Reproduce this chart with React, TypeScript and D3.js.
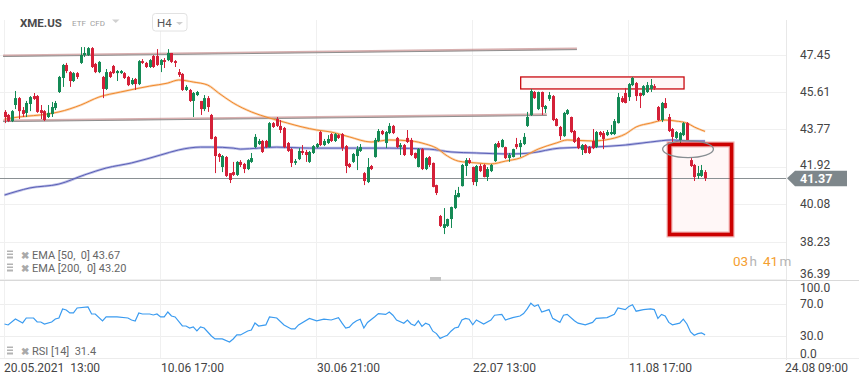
import React from 'react';
import * as d3 from 'd3';

const W = 859;
const H = 385;

// [open, high, low, close] per H4 bar
const ohlc: [number, number, number, number][] = [
  [44.63,44.72,44.08,44.38],[44.48,44.53,44.13,44.18],[44.18,44.72,44.13,44.67],[44.97,45.66,44.77,45.31],
  [45.31,45.36,44.28,44.67],[44.72,44.87,44.38,44.53],[44.58,45.17,44.38,45.07],[45.02,45.41,44.67,45.36],
  [45.41,45.56,45.22,45.27],[45.41,45.46,44.58,44.63],[44.72,44.97,44.28,44.58],[44.67,44.72,44.18,44.23],
  [44.38,44.97,44.33,44.58],[44.53,45.12,44.38,44.87],[44.82,45.17,44.72,45.07],[45.61,46.40,45.56,46.35],
  [46.30,46.99,45.86,46.94],[46.94,47.04,46.54,46.64],[46.59,46.64,45.86,46.15],[46.15,46.59,46.10,46.54],
  [46.54,46.59,46.25,46.35],[47.04,47.82,46.99,47.43],[47.43,47.82,47.33,47.53],[47.43,47.82,47.38,47.77],
  [47.77,47.82,46.79,46.84],[46.99,47.04,46.54,46.59],[46.59,47.13,46.54,47.09],[46.35,46.40,45.31,45.76],
  [45.76,46.74,45.71,46.59],[46.59,46.64,46.30,46.35],[46.89,46.94,46.50,46.54],[46.54,46.69,46.15,46.64],
  [46.54,46.69,46.50,46.64],[46.54,46.59,46.25,46.30],[46.35,46.40,45.90,45.95],[46.00,46.30,45.95,46.20],
  [46.25,46.30,45.71,46.00],[46.00,47.18,45.95,47.13],[47.13,47.23,46.99,47.04],[47.04,47.09,46.79,46.84],
  [46.84,47.23,46.79,47.18],[47.38,47.43,46.79,46.84],[47.38,47.72,46.89,46.94],[46.94,47.23,46.59,47.18],
  [47.18,47.28,46.79,47.09],[47.18,47.72,47.13,47.53],[47.53,47.53,47.04,47.09],[47.13,47.18,46.84,47.04],
  [46.59,46.74,46.35,46.45],[46.50,46.54,45.66,45.71],[45.71,45.95,45.66,45.86],[45.71,45.76,45.12,45.17],
  [45.17,45.61,44.38,45.56],[45.46,45.66,45.41,45.61],[45.17,45.17,44.48,44.77],[44.77,45.46,44.67,45.31],
  [45.31,45.41,44.63,44.87],[44.48,44.53,43.28,43.30],[43.40,43.44,41.62,42.46],[42.56,42.61,42.17,42.41],
  [41.92,42.51,41.67,42.46],[42.41,42.46,41.43,41.48],[41.62,41.62,41.13,41.28],[41.67,42.17,41.48,41.53],
  [41.53,42.21,41.48,42.17],[42.17,42.26,41.92,42.02],[42.07,42.12,41.62,41.82],[41.82,42.31,41.77,42.26],
  [42.17,42.61,42.12,42.36],[42.90,43.54,42.85,43.40],[43.05,43.30,43.00,43.20],[43.20,43.25,42.61,42.66],
  [43.20,43.25,42.85,42.90],[42.90,44.13,42.88,44.08],[44.08,44.13,43.84,43.89],[44.28,44.38,43.89,43.94],
  [43.94,44.23,43.59,43.74],[43.84,43.89,42.85,42.90],[43.10,43.15,42.66,42.71],[42.80,42.85,41.92,42.12],
  [42.12,42.31,42.02,42.21],[42.31,42.85,42.26,42.71],[42.71,43.00,42.51,42.61],[42.66,42.76,42.17,42.51],
  [42.17,42.71,42.12,42.66],[42.61,43.00,42.56,42.95],[42.90,43.10,42.85,43.05],[43.64,43.69,42.95,43.00],
  [43.00,43.30,42.95,43.20],[43.10,43.49,43.05,43.30],[43.54,43.59,43.15,43.20],[43.20,43.59,43.15,43.54],
  [43.49,43.54,43.30,43.35],[43.54,43.59,42.71,42.85],[42.95,43.00,41.62,41.97],[42.07,42.12,41.87,41.92],
  [42.17,42.61,42.12,42.56],[42.46,42.95,41.77,42.80],[42.71,43.05,42.66,42.90],[41.62,41.67,41.03,41.23],
  [41.18,42.36,41.13,41.92],[41.97,42.02,41.77,41.82],[42.41,43.35,42.38,43.25],[43.20,43.79,43.15,43.69],
  [43.69,43.74,43.49,43.54],[43.10,43.69,42.85,43.64],[43.59,44.08,43.54,43.94],[43.94,43.99,43.54,43.59],
  [43.35,43.40,42.85,42.90],[42.90,43.10,42.51,43.00],[43.00,43.05,42.46,42.51],[43.35,43.74,43.10,43.15],
  [43.25,43.35,42.46,42.51],[42.61,42.63,42.31,42.36],[41.92,42.85,41.90,42.80],[42.80,42.85,41.77,41.82],
  [41.82,42.41,41.77,42.36],[42.41,42.46,41.92,42.02],[42.12,42.14,40.92,40.94],[41.03,41.05,40.54,40.64],
  [39.51,39.56,38.97,39.02],[38.92,39.90,38.62,39.11],[39.02,39.38,38.97,39.36],[39.36,39.97,38.92,39.95],
  [39.90,40.79,39.85,40.54],[40.44,40.94,40.42,40.64],[40.98,42.07,40.96,42.02],[41.97,42.36,41.48,42.26],
  [42.26,42.36,42.07,42.12],[41.92,41.94,41.03,41.18],[41.18,42.02,40.98,41.97],[41.97,42.07,41.67,41.72],
  [42.02,42.07,41.41,41.43],[41.43,41.92,41.23,41.82],[41.72,42.07,41.67,42.02],[42.21,43.10,42.17,43.05],
  [43.10,43.20,42.85,42.90],[42.90,43.30,42.88,43.25],[42.90,42.92,42.31,42.36],[42.36,42.61,42.17,42.51],
  [42.41,42.82,42.39,42.80],[43.05,43.35,42.80,42.90],[42.90,43.25,42.41,43.10],[43.05,43.59,43.00,43.40],
  [43.94,44.63,43.89,44.38],[44.48,45.76,44.43,45.66],[45.61,45.66,45.27,45.31],[44.77,45.63,44.72,45.61],
  [45.61,45.63,44.48,44.87],[44.77,44.97,44.58,44.92],[45.27,45.61,45.17,45.46],[45.41,45.46,44.18,44.23],
  [44.28,44.33,43.92,43.94],[43.89,43.94,43.25,43.44],[43.44,44.63,43.40,44.58],[44.53,44.77,44.48,44.72],
  [44.38,44.40,43.59,43.64],[43.69,43.74,43.10,43.15],[43.35,43.40,42.80,42.85],[42.76,43.05,42.51,43.00],
  [43.00,43.05,42.59,42.61],[42.90,42.95,42.56,42.61],[43.20,43.79,42.80,42.85],[42.90,43.69,42.85,43.64],
  [43.64,43.69,43.40,43.49],[43.59,43.69,42.80,43.30],[43.49,43.74,43.44,43.64],[43.54,43.99,43.49,43.64],
  [43.54,44.28,43.49,44.18],[44.08,45.56,44.06,45.36],[45.31,45.41,45.07,45.12],[45.56,45.81,45.05,45.07],
  [45.36,46.05,45.17,46.00],[45.95,46.35,45.90,46.30],[46.05,46.10,45.17,45.41],[45.56,45.58,44.82,45.41],
  [45.46,45.95,45.41,45.90],[45.61,46.10,45.56,45.95],[45.76,46.25,45.61,45.95],[45.90,46.00,45.71,45.81],
  [44.87,44.92,44.18,44.23],[44.23,45.12,44.13,45.07],[45.07,45.31,44.80,44.82],[44.38,44.53,43.64,43.69],
  [43.79,43.84,43.15,43.40],[43.35,43.69,43.30,43.64],[43.25,43.64,43.10,43.59],[43.49,44.13,43.44,44.08],
  [44.08,44.13,43.20,43.25],[42.26,42.36,41.92,41.97],[42.02,42.07,41.23,41.43],[41.48,41.97,41.33,41.62],
  [41.48,42.02,41.43,41.77],[41.67,41.77,41.23,41.37],
];

const ema50Idx = [0,4,12,15,21,26,32,40,45,48,52,56,59,63,68,73,78,82,86,90,95,101,106,112,116,119,122,125,130,134,138,142,147,152,155,162,167,171,174,178,182,185,188,190,193];
const ema50Val = [44.28,44.38,44.53,44.63,44.97,45.36,45.61,45.90,46.05,46.20,46.10,45.95,45.56,45.07,44.63,44.33,44.08,43.89,43.74,43.64,43.40,43.15,43.25,43.20,43.05,42.85,42.46,42.21,42.12,42.07,42.21,42.36,42.80,43.10,43.25,43.20,43.30,43.54,43.89,44.08,44.23,44.18,44.08,43.89,43.67];

const ema200Idx = [0,7,15,22,28,35,43,48,54,57,63,65,75,84,97,106,117,123,130,139,145,153,162,171,178,184,189,193];
const ema200Val = [40.54,40.89,41.08,41.53,41.87,42.12,42.51,42.76,42.90,42.90,42.85,42.80,42.90,42.85,42.85,42.85,42.80,42.66,42.61,42.56,42.61,42.85,42.90,43.00,43.15,43.25,43.20,43.20];

const rsiIdx = [0,1,3,5,6,8,9,10,11,13,14,15,16,17,18,19,20,23,24,25,27,28,29,31,34,35,36,37,38,40,41,42,43,44,45,46,47,49,50,51,52,53,54,55,57,58,60,62,63,64,65,67,68,69,70,72,73,75,77,79,80,81,
  84,86,88,90,92,93,94,95,96,97,98,99,100,102,103,105,106,107,108,110,111,112,113,114,115,116,117,118,119,120,121,122,123,124,125,126,127,128,129,130,132,134,135,137,138,140,142,143,144,145,146,147,148,150,151,153,154,155,157,158,160,162,163,166,168,169,171,172,173,174,176,178,179,180,181,182,183,184,186,187,188,189,190,191,192,193];
const rsiVal = [45,43.8,51.3,46.3,52.5,52.5,47.5,47.5,45,47.5,51.3,52.5,63.8,62.5,58.8,58.8,65,66.3,57.5,57.5,48.8,53.8,53.8,53.8,52.5,50,48.8,58.8,57.5,57.5,56.3,57.5,53.8,53.8,60,55,53.8,42.5,42.5,40,41.3,36.3,41.3,40,30,26.3,26.3,22.5,26.3,31.3,31.3,36.3,37.5,46.3,42.5,43.8,53.8,52.5,43.8,38.8,38.8,43.8,
  52,49,51,50,53,46,40,41,46,49,51,40,47,54,58,57,60,56,50,46,50,45,43,49,42,46,44,36,33,27,29,31,36,40,41,50,52,51,44,50,45,50,56,57,50,53,55,58,64,71,67,69,60,63,52,47,56,57,49,46,44,47,52,53,57,65,63,67,69,61,63,64,63,52,57,55,47,44,46,51,45,35,31,33,34,31.4];

const priceTicks = [47.45, 45.61, 43.77, 41.92, 40.08, 38.23, 36.39];
const rsiTicks = [100, 70, 30, 0];
const timeTickIdx = [0, 43, 86, 129, 172, 215];
const timeTickLabels = ['20.05.2021  13:00', '10.06 17:00', '30.06 21:00', '22.07 13:00', '11.08 17:00', '24.08 09:00'];
const lastPrice = 41.37;
const ema50Last = 43.67;
const ema200Last = 43.20;
const rsiLast = 31.4;

// drawn annotations (bar index / price)
const trendLines = [
  { i0: -0.4, p0: 47.38, i1: 157.7, p1: 47.72 },
  { i0: -0.4, p0: 44.18, i1: 149.4, p1: 44.48 },
];
const zoneBox = { i0: 142.2, i1: 187.2, p0: 46.35, p1: 45.76 };
const alertBox = { i0: 183.2, i1: 200.3, p0: 43.03, p1: 38.6 };
const ellipseMark = { i: 188.3, p: 42.8, di: 7, dp: 0.42 };

const FONT = 'Roboto, "Noto Sans", sans-serif';

export default function App() {
  const x = d3.scaleLinear().domain([0, 193]).range([4.5, 4.5 + 193 * 3.63]);
  const y = d3.scaleLinear().domain([36.39, 47.45]).range([279.4, 54.6]);
  const yR = d3.scaleLinear().domain([0, 100]).range([360, 280]);

  const emaLine = d3.line<[number, number]>().x(d => x(d[0])).y(d => y(d[1])).curve(d3.curveMonotoneX);
  const e50 = emaLine(ema50Idx.map((v, k) => [v, ema50Val[k]]))!;
  const e200 = emaLine(ema200Idx.map((v, k) => [v, ema200Val[k]]))!;
  const rsiPath = d3.line<[number, number]>().x(d => x(d[0])).y(d => yR(d[1]))(rsiIdx.map((v, k) => [v, rsiVal[k]]))!;

  const green = '#148a55';
  const red = '#d42038';
  const axisX = 786;
  const ly = y(lastPrice);

  const ab = { x0: x(alertBox.i0), x1: x(alertBox.i1), y0: y(alertBox.p0), y1: y(alertBox.p1) };
  const zb = { x0: x(zoneBox.i0), x1: x(zoneBox.i1), y0: y(zoneBox.p0), y1: y(zoneBox.p1) };

  return (
    <svg width={W} height={H} style={{ position: 'absolute', left: 0, top: 0, background: '#fff' }} fontFamily={FONT}>
      <rect width={W} height={H} fill="#fff" />
      {/* horizontal grid */}
      {priceTicks.map(t => (
        <line key={'g' + t} x1={0} x2={axisX} y1={Math.round(y(t)) + 0.5} y2={Math.round(y(t)) + 0.5} stroke="#f0f0f0" />
      ))}
      {[70, 30].map(t => (
        <line key={'rg' + t} x1={0} x2={axisX} y1={Math.round(yR(t)) + 0.5} y2={Math.round(yR(t)) + 0.5} stroke="#eeeeee" />
      ))}
      {/* vertical grid */}
      {timeTickIdx.slice(0, 5).map(i => (
        <line key={'v' + i} x1={Math.round(x(i)) - 0.5} x2={Math.round(x(i)) - 0.5} y1={20} y2={358} stroke="#f0f0f0" />
      ))}
      <line x1={axisX + 0.5} x2={axisX + 0.5} y1={20} y2={360} stroke="#e8e8e8" />
      {/* pane separators */}
      <line x1={0} x2={W} y1={280.5} y2={280.5} stroke="#d9d9d9" />
      <line x1={0} x2={W} y1={358.5} y2={358.5} stroke="#ececec" />
      <rect x={430} y={277} width={11} height={4} fill="#c4c4c4" />

      {/* trend lines */}
      {trendLines.map((t, k) => (
        <g key={'t' + k}>
          <line x1={x(t.i0)} y1={y(t.p0) - 0.5} x2={x(t.i1)} y2={y(t.p1) - 0.5} stroke="rgba(175,95,95,0.5)" strokeWidth={2.2} />
          <line x1={x(t.i0)} y1={y(t.p0) + 0.5} x2={x(t.i1)} y2={y(t.p1) + 0.5} stroke="#8f8f8f" strokeWidth={1} />
        </g>
      ))}
      {/* zone box */}
      <rect x={zb.x0} y={zb.y0} width={zb.x1 - zb.x0} height={zb.y1 - zb.y0} fill="#fff6f6" stroke="#c9090f" strokeWidth={1.3} />
      {/* alert box fill */}
      <rect x={ab.x0} y={ab.y0} width={ab.x1 - ab.x0} height={ab.y1 - ab.y0} fill="#fff7f7" />

      {/* last price line */}
      <line x1={0} x2={axisX} y1={Math.round(ly) + 0.5} y2={Math.round(ly) + 0.5} stroke="#8a9093" strokeWidth={1} />

      {/* EMAs */}
      <path d={e200} fill="none" stroke="rgba(120,125,205,0.5)" strokeWidth={2.6} />
      <path d={e200} fill="none" stroke="#5a5fb6" strokeWidth={1} />
      <path d={e50} fill="none" stroke="rgba(248,175,110,0.5)" strokeWidth={2.4} />
      <path d={e50} fill="none" stroke="#f0892d" strokeWidth={1} />

      {/* candles */}
      {ohlc.map((c, i) => {
        const [o, h, l, cl] = c;
        const up = cl >= o;
        const col = up ? green : red;
        const xc = Math.round(x(i));
        const top = y(Math.max(o, cl));
        const bot = y(Math.min(o, cl));
        return (
          <g key={'c' + i}>
            <line x1={xc + 0.5} x2={xc + 0.5} y1={y(h)} y2={y(l)} stroke={col} strokeWidth={1} />
            <rect x={xc - 1} y={top} width={3} height={Math.max(1, bot - top)} fill={col} />
          </g>
        );
      })}

      {/* alert box stroke */}
      <rect x={ab.x0} y={ab.y0} width={ab.x1 - ab.x0} height={ab.y1 - ab.y0} fill="none" stroke="rgba(215,40,40,0.35)" strokeWidth={6} />
      <rect x={ab.x0} y={ab.y0} width={ab.x1 - ab.x0} height={ab.y1 - ab.y0} fill="none" stroke="#cc0000" strokeWidth={3.6} />
      {/* ellipse */}
      <ellipse cx={x(ellipseMark.i)} cy={y(ellipseMark.p)} rx={x(ellipseMark.i + ellipseMark.di) - x(ellipseMark.i)} ry={y(ellipseMark.p - ellipseMark.dp) - y(ellipseMark.p)} fill="none" stroke="#868d91" strokeWidth={1.3} />

      {/* RSI */}
      <path d={rsiPath} fill="none" stroke="#3a9bf0" strokeWidth={1.2} />

      {/* right axis labels */}
      {priceTicks.map(t => {
        let yy = y(t) + 4;
        if (t === 36.39) yy -= 5;
        if (t === 41.92) yy -= 2;
        return (
          <text key={'pl' + t} x={800} y={yy} fontSize={12} fill="#444">{t.toFixed(2)}</text>
        );
      })}
      {rsiTicks.map(t => {
        let yy = yR(t) + 4;
        if (t === 100) yy += 8;
        if (t === 0) yy -= 6;
        return (
          <text key={'rl' + t} x={800} y={yy} fontSize={12} fill="#444">{t.toFixed(1)}</text>
        );
      })}
      {/* last price tag */}
      <polygon points={`${axisX + 1},${ly} ${axisX + 9},${ly - 7.5} 847,${ly - 7.5} 847,${ly + 8} ${axisX + 9},${ly + 8}`} fill="#7e878b" />
      <text x={800} y={ly + 4.5} fontSize={12.5} fontWeight="bold" fill="#fff">{lastPrice.toFixed(2)}</text>

      {/* time axis */}
      {timeTickIdx.map((i, k) => (
        <text key={'tl' + k} x={k === 0 ? 4 : Math.round(x(i))} y={372} fontSize={12} fill="#444" style={{ whiteSpace: 'pre' }}>{timeTickLabels[k]}</text>
      ))}

      {/* header */}
      <text x={20} y={27} fontSize={11.5} fontWeight="bold" fill="#4a4a4a">XME.US</text>
      <text x={72} y={26} fontSize={8} fill="#a0a0a0">ETF</text>
      <text x={90} y={26} fontSize={8} fill="#a0a0a0">CFD</text>
      <polygon points="112,19.5 119.5,19.5 115.75,23" fill="#d0d0d0" />
      <rect x={152.5} y={13.5} width={34.5} height={17.5} rx={3} fill="#fff" stroke="#e2e2e2" />
      <text x={157} y={27} fontSize={11.5} fill="#555">H4</text>
      <polygon points="176,22 183,22 179.5,25" fill="#cfcfcf" />

      {/* legends */}
      {[{ yy: 255, label: `EMA [50,  0] ${ema50Last.toFixed(2)}` }, { yy: 268, label: `EMA [200,  0] ${ema200Last.toFixed(2)}` }, { yy: 351, label: `RSI [14]  ${rsiLast.toFixed(1)}` }].map((lg, k) => (
        <g key={'lg' + k}>
          <rect x={7} y={lg.yy - 4.5} width={6} height={1.5} fill="#b3b3b3" />
          <rect x={7} y={lg.yy - 1.5} width={6} height={1.5} fill="#b3b3b3" />
          <rect x={7} y={lg.yy + 1.5} width={6} height={2} fill="#b3b3b3" />
          <text x={20.5} y={lg.yy + 3.5} fontSize={9.5} fontWeight="bold" fill="#aaa">✖</text>
          <text x={32} y={lg.yy + 4} fontSize={11} fill="#666" style={{ whiteSpace: 'pre' }}>{lg.label}</text>
        </g>
      ))}

      {/* countdown */}
      <text y={265.5} fontSize={13.5}>
        <tspan x={733} fill="#f5a030">03</tspan>
        <tspan x={749.5} fill="#b5b5b5">h</tspan>
        <tspan x={763} fill="#f5a030">41</tspan>
        <tspan x={779.5} fill="#b5b5b5">m</tspan>
      </text>
    </svg>
  );
}
